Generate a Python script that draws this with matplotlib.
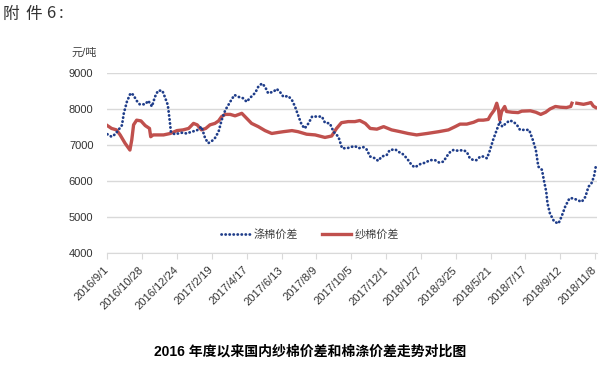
import numpy as np
import pandas as pd
import matplotlib
matplotlib.use('Agg')
import matplotlib.pyplot as plt

plt.rcParams['font.family'] = ['Liberation Sans', 'Noto Sans CJK SC', 'DejaVu Sans']

# 数据 (天数从 2016/9/1 起算)
start = pd.Timestamp('2016-09-01')

tick_labels = ['2016/9/1', '2016/10/28', '2016/12/24', '2017/2/19', '2017/4/17',
               '2017/6/13', '2017/8/9', '2017/10/5', '2017/12/1', '2018/1/27',
               '2018/3/25', '2018/5/21', '2018/7/17', '2018/9/12', '2018/11/8']

# 涤棉价差
poly_days = [0, 7, 13, 24, 27, 32, 38, 43, 47, 53, 62, 67, 73, 78, 83, 90, 94, 99, 102, 104,
             110, 122, 130, 138, 146, 154, 160, 165, 171, 176, 182, 187, 193, 198, 201, 208,
             214, 222, 228, 233, 242, 247, 253, 258, 263, 272, 277, 283, 288, 296, 302, 307,
             312, 318, 323, 329, 335, 343, 351, 356, 364, 370, 378, 384, 392, 400, 405, 411,
             419, 424, 430, 438, 443, 449, 457, 462, 471, 476, 482, 490, 498, 503, 512, 520,
             528, 536, 543, 550, 555, 561, 566, 574, 582, 588, 593, 599, 604, 610, 615, 621,
             626, 631, 637, 642, 646, 652, 658, 664, 670, 675, 683, 690, 696, 701, 705, 711,
             714, 718, 720, 724, 731, 738, 743, 749, 756, 762, 769, 776, 782, 787, 792, 796, 799]
poly_vals = [7300, 7230, 7300, 7550, 7880, 8200, 8440, 8390, 8250, 8130, 8130, 8230, 8070, 8340,
             8510, 8510, 8340, 8110, 7690, 7370, 7300, 7340, 7320, 7370, 7400, 7510, 7190, 7050,
             7110, 7190, 7370, 7690, 7970, 8110, 8200, 8390, 8340, 8300, 8200, 8300, 8450, 8620,
             8710, 8620, 8440, 8480, 8560, 8460, 8340, 8360, 8250, 8070, 7830, 7560, 7460, 7600,
             7790, 7790, 7790, 7620, 7600, 7370, 7230, 6910, 6910, 6950, 6970, 6910, 6940, 6880,
             6680, 6630, 6560, 6680, 6720, 6860, 6880, 6810, 6770, 6630, 6440, 6380, 6470, 6510,
             6580, 6580, 6510, 6540, 6680, 6810, 6860, 6840, 6860, 6810, 6630, 6580, 6580, 6680,
             6680, 6630, 6860, 7140, 7420, 7650, 7510, 7600, 7680, 7650, 7560, 7420, 7420, 7420,
             7140, 6860, 6400, 6310, 6030, 5700, 5380, 5100, 4870, 4820, 5010, 5290, 5520, 5520,
             5470, 5420, 5560, 5840, 5940, 6120, 6400]

# 纱棉价差 (NaN 为缺失)
yarn_days = [0, 7, 15, 21, 29, 37, 40, 43, 48, 55, 62, 69, 71, 75, 83, 92, 103, 114, 124, 133,
             141, 147, 154, 161, 168, 176, 182, 187, 193, 201, 209, 220, 228, 236, 247, 258,
             269, 280, 288, 302, 312, 326, 340, 356, 367, 375, 383, 394, 405, 413, 422, 430,
             441, 452, 465, 479, 492, 506, 523, 542, 558, 569, 577, 588, 599, 607, 615, 623,
             627, 633, 637, 640, 642, 645, 650, 653, 662, 672, 678, 692, 701, 709, 717, 724,
             733, 741, 751, 758, 760, 764, 768, 779, 787, 791, 795, 799]
yarn_vals = [7540, 7460, 7420, 7280, 7050, 6860, 7140, 7560, 7690, 7670, 7540, 7460, 7230, 7280,
             7280, 7280, 7320, 7400, 7420, 7460, 7600, 7560, 7420, 7460, 7560, 7600, 7670, 7790,
             7850, 7850, 7810, 7880, 7740, 7600, 7510, 7400, 7320, 7350, 7370, 7400, 7370, 7300,
             7280, 7210, 7250, 7460, 7620, 7650, 7650, 7680, 7600, 7460, 7440, 7510, 7420, 7370,
             7320, 7280, 7320, 7370, 7420, 7510, 7580, 7580, 7630, 7690, 7690, 7710, 7830, 7970,
             8160, 7970, 7690, 7930, 8070, 7930, 7910, 7900, 7940, 7950, 7910, 7850, 7910, 8000,
             8070, 8050, 8040, 8070, 8160, np.nan, 8160, 8130, 8160, 8180, 8080, 8040]

poly_x = start + pd.to_timedelta(poly_days, unit='D')
yarn_x = start + pd.to_timedelta(yarn_days, unit='D')
ticks = pd.to_datetime(tick_labels, format='%Y/%m/%d')

fig = plt.figure(figsize=(6.01, 3.67), dpi=100)
ax = fig.add_axes([107.3 / 601, 1 - 253 / 367, (597 - 107.3) / 601, 180 / 367])

ax.plot(poly_x, poly_vals, color='#1f3d8a', lw=2.0, linestyle=(0, (0.1, 1.35)),
        dash_capstyle='round', label='涤棉价差', zorder=3)
ax.plot(yarn_x, yarn_vals, color='#c0504d', lw=2.4, label='纱棉价差', zorder=2)

ax.set_ylim(4000, 9000)
ax.set_yticks(np.arange(4000, 9001, 1000))
ax.set_xlim(start, start + pd.Timedelta(days=801))
ax.set_xticks(ticks)
ax.set_xticklabels(tick_labels, rotation=45, ha='right', va='center', rotation_mode='anchor')
ax.grid(axis='y', color='#d9d9d9', lw=1)
ax.set_axisbelow(True)
for s in ['left', 'right', 'top']:
    ax.spines[s].set_visible(False)
ax.spines['bottom'].set_color('#d9d9d9')
ax.tick_params(axis='y', length=0, labelsize=8, colors='#333333', pad=10)
ax.tick_params(axis='x', length=4, color='#d9d9d9', labelsize=8, labelcolor='#333333', pad=7)

fig.text(72 / 601, 1 - 53 / 367, '元/吨', fontsize=8, color='#404040', va='center')

# 附件 6: (字间距较宽)
for ch, px in zip(['附', '件', '6', ':'], [3, 25, 46, 59]):
    fig.text(px / 601, 1 - 14 / 367, ch, fontsize=12, color='#333333', va='center',
             fontweight='light', family=['Noto Sans CJK SC', 'DejaVu Sans'])

fig.text(310 / 601, 1 - 352 / 367, '2016 年度以来国内纱棉价差和棉涤价差走势对比图',
         fontsize=10, fontweight='bold', ha='center', va='center')

fig.legend(loc='center', bbox_to_anchor=(310 / 601, 1 - 234 / 367), ncol=2, frameon=False,
           fontsize=8, handlelength=2.6, handletextpad=0.3, columnspacing=2.2,
           labelcolor='#404040')

fig.savefig('out.png', dpi=100)
